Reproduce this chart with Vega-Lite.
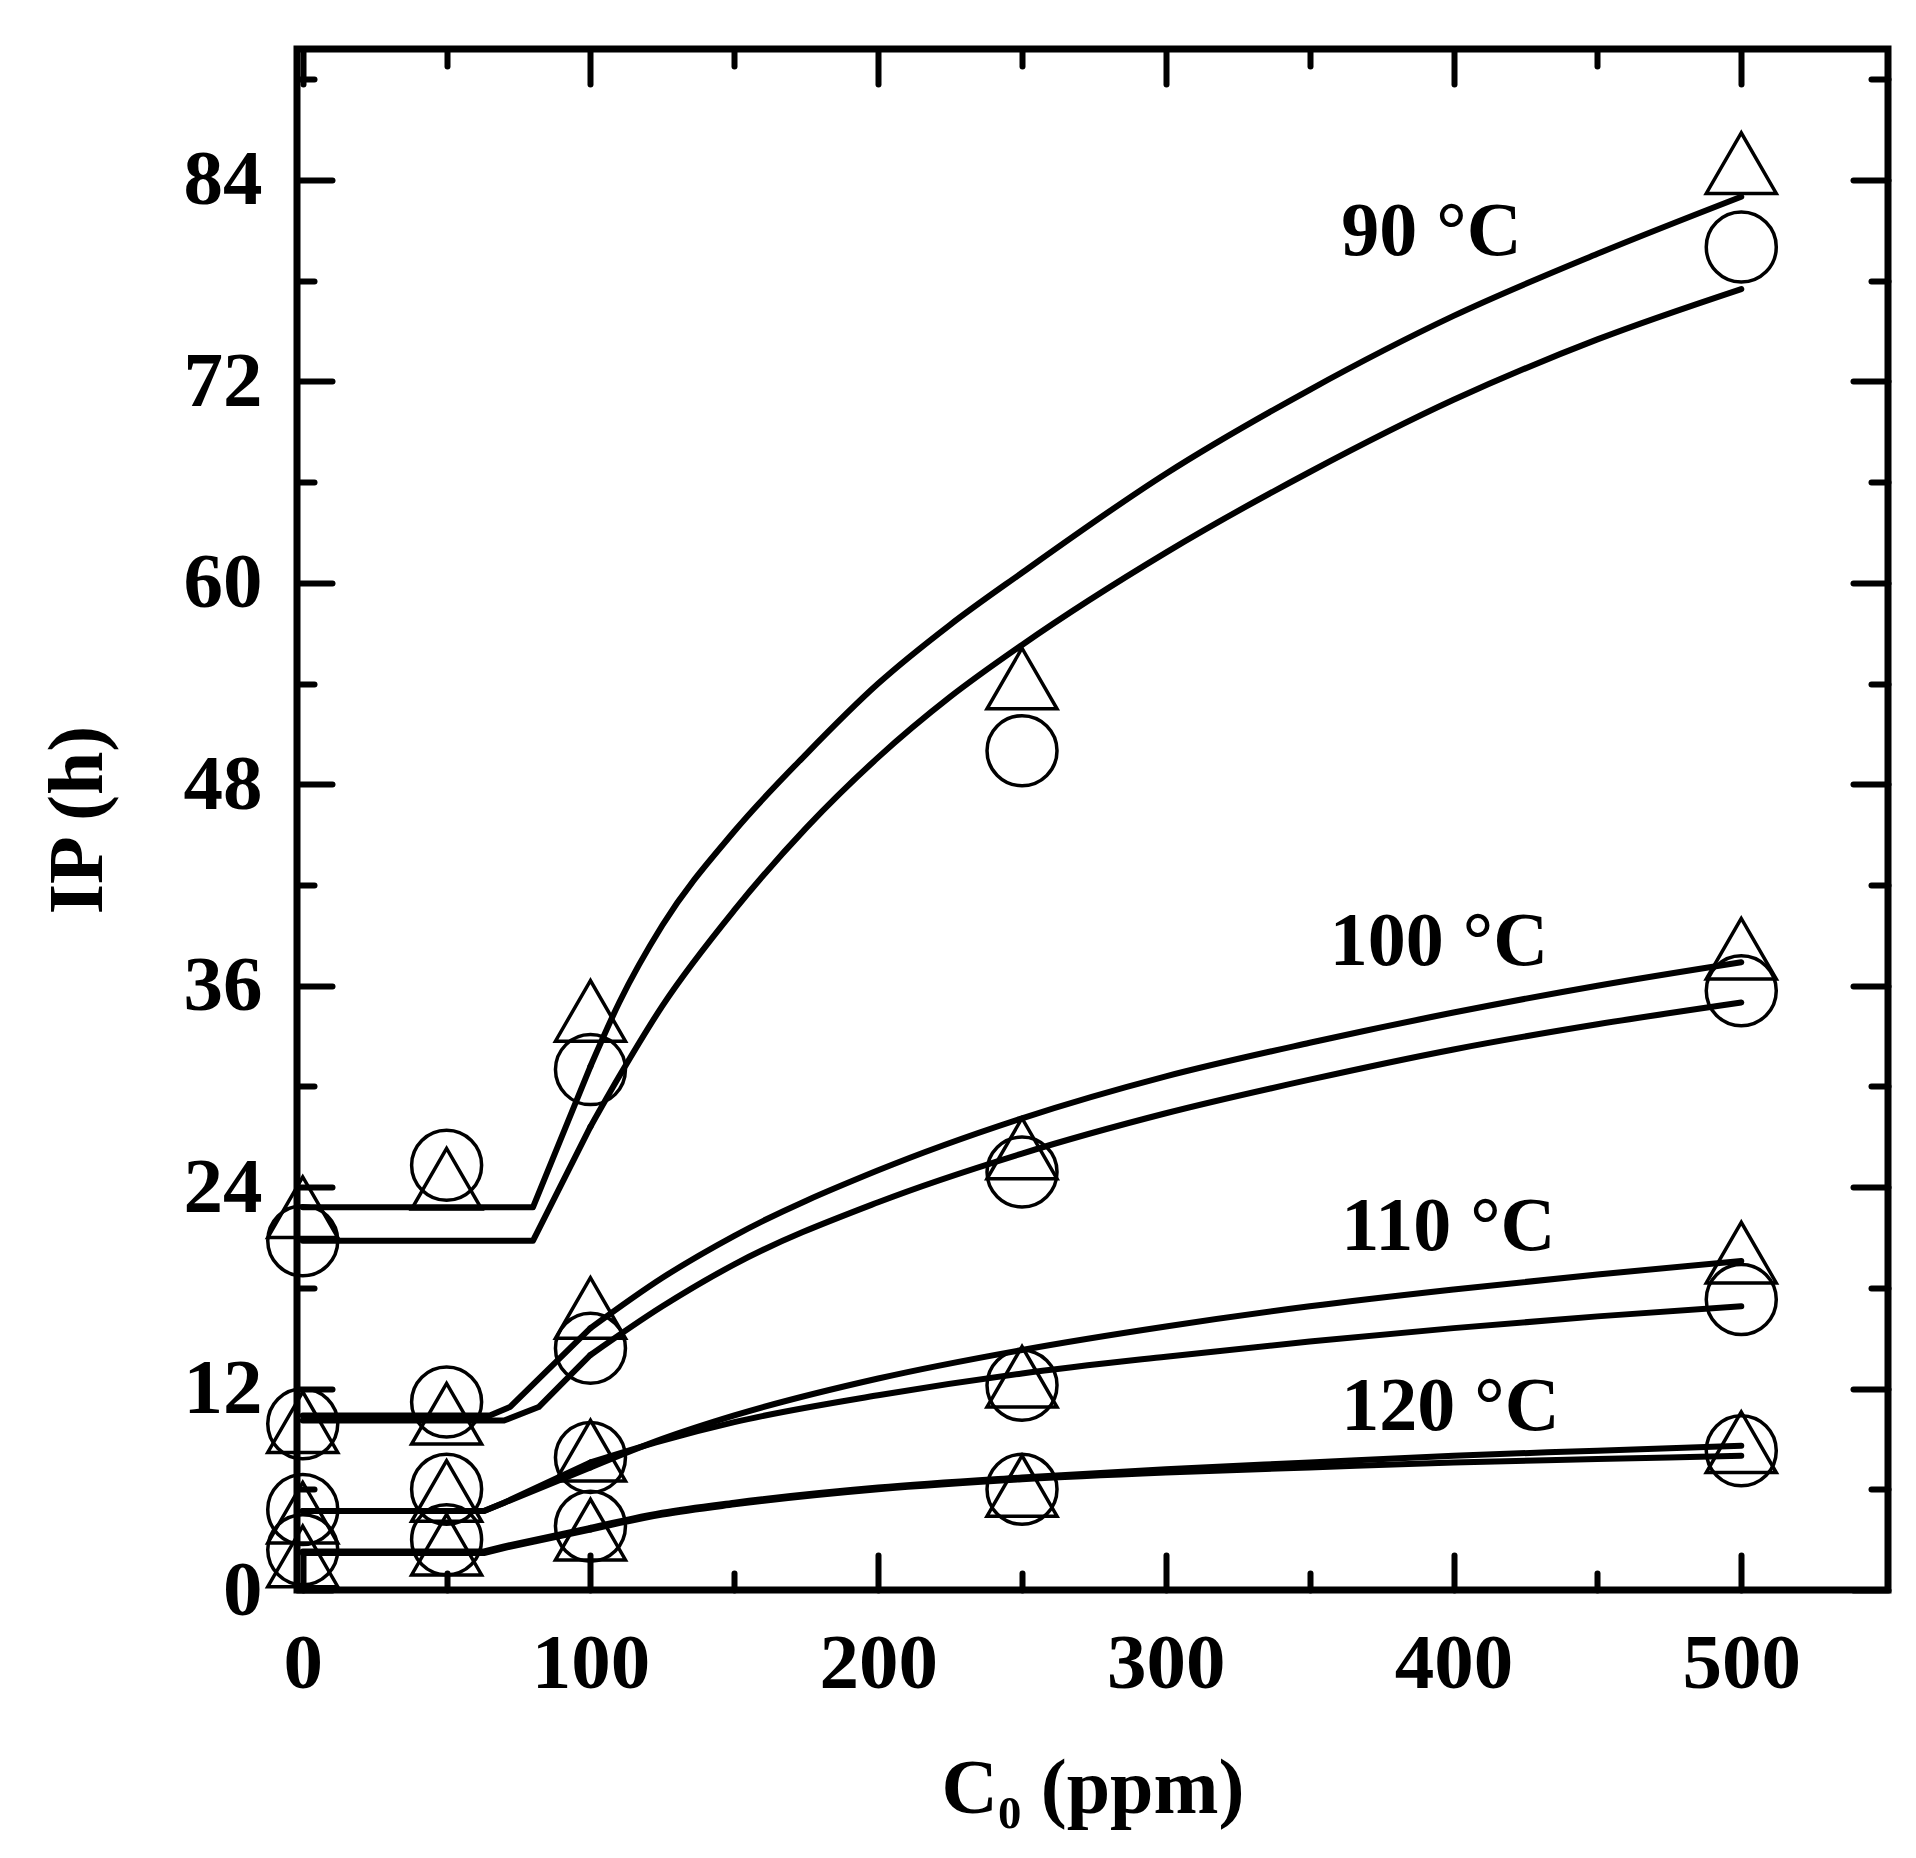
{
  "$schema": "https://vega.github.io/schema/vega-lite/v6.json",
  "width": 1591,
  "height": 1541,
  "autosize": {"type": "none"},
  "padding": {"left": 297, "top": 49, "right": 28, "bottom": 268},
  "background": "white",
  "config": {
    "view": {"stroke": "black", "strokeWidth": 7},
    "axis": {
      "domain": false,
      "grid": false,
      "tickColor": "black",
      "tickWidth": 6,
      "tickCap": "round",
      "labelFont": "Liberation Serif",
      "labelFontWeight": "bold",
      "labelFontSize": 79,
      "labelColor": "black",
      "labelFlush": false,
      "labelOverlap": false,
      "labelBound": false,
      "titleFont": "Liberation Serif",
      "titleFontWeight": "bold",
      "titleFontSize": 78,
      "titleColor": "black"
    }
  },
  "datasets": {
    "fits": [
      {"series": "90 T", "x": 0, "y": 22.8}, {"series": "90 T", "x": 80, "y": 22.8}, {"series": "90 T", "x": 100, "y": 31.2}, {"series": "90 T", "x": 110, "y": 35.0}, {"series": "90 T", "x": 125, "y": 39.6}, {"series": "90 T", "x": 150, "y": 45.2}, {"series": "90 T", "x": 175, "y": 49.8}, {"series": "90 T", "x": 200, "y": 54.0}, {"series": "90 T", "x": 225, "y": 57.5}, {"series": "90 T", "x": 250, "y": 60.6}, {"series": "90 T", "x": 300, "y": 66.5}, {"series": "90 T", "x": 350, "y": 71.5}, {"series": "90 T", "x": 400, "y": 75.9}, {"series": "90 T", "x": 450, "y": 79.6}, {"series": "90 T", "x": 500, "y": 83.0},
      {"series": "90 C", "x": 0, "y": 20.8}, {"series": "90 C", "x": 80, "y": 20.8}, {"series": "90 C", "x": 100, "y": 27.6}, {"series": "90 C", "x": 110, "y": 30.6}, {"series": "90 C", "x": 125, "y": 34.8}, {"series": "90 C", "x": 150, "y": 40.5}, {"series": "90 C", "x": 175, "y": 45.4}, {"series": "90 C", "x": 200, "y": 49.6}, {"series": "90 C", "x": 225, "y": 53.2}, {"series": "90 C", "x": 250, "y": 56.3}, {"series": "90 C", "x": 300, "y": 61.8}, {"series": "90 C", "x": 350, "y": 66.6}, {"series": "90 C", "x": 400, "y": 70.9}, {"series": "90 C", "x": 450, "y": 74.5}, {"series": "90 C", "x": 500, "y": 77.5},
      {"series": "100 T", "x": 0, "y": 10.4}, {"series": "100 T", "x": 65, "y": 10.4}, {"series": "100 T", "x": 72, "y": 10.9}, {"series": "100 T", "x": 100, "y": 15.6}, {"series": "100 T", "x": 125, "y": 18.6}, {"series": "100 T", "x": 150, "y": 21.1}, {"series": "100 T", "x": 200, "y": 25.0}, {"series": "100 T", "x": 250, "y": 28.1}, {"series": "100 T", "x": 300, "y": 30.6}, {"series": "100 T", "x": 350, "y": 32.6}, {"series": "100 T", "x": 400, "y": 34.4}, {"series": "100 T", "x": 450, "y": 36.0}, {"series": "100 T", "x": 500, "y": 37.4},
      {"series": "100 C", "x": 0, "y": 10.1}, {"series": "100 C", "x": 70, "y": 10.1}, {"series": "100 C", "x": 82, "y": 10.9}, {"series": "100 C", "x": 100, "y": 14.0}, {"series": "100 C", "x": 125, "y": 16.9}, {"series": "100 C", "x": 150, "y": 19.4}, {"series": "100 C", "x": 200, "y": 23.1}, {"series": "100 C", "x": 250, "y": 26.0}, {"series": "100 C", "x": 300, "y": 28.4}, {"series": "100 C", "x": 350, "y": 30.4}, {"series": "100 C", "x": 400, "y": 32.2}, {"series": "100 C", "x": 450, "y": 33.7}, {"series": "100 C", "x": 500, "y": 35.0},
      {"series": "110 T", "x": 0, "y": 4.7}, {"series": "110 T", "x": 63, "y": 4.7}, {"series": "110 T", "x": 70, "y": 5.2}, {"series": "110 T", "x": 100, "y": 7.3}, {"series": "110 T", "x": 125, "y": 9.0}, {"series": "110 T", "x": 150, "y": 10.4}, {"series": "110 T", "x": 200, "y": 12.6}, {"series": "110 T", "x": 250, "y": 14.3}, {"series": "110 T", "x": 300, "y": 15.7}, {"series": "110 T", "x": 350, "y": 16.9}, {"series": "110 T", "x": 400, "y": 17.9}, {"series": "110 T", "x": 450, "y": 18.8}, {"series": "110 T", "x": 500, "y": 19.6},
      {"series": "110 C", "x": 0, "y": 4.7}, {"series": "110 C", "x": 63, "y": 4.7}, {"series": "110 C", "x": 70, "y": 5.2}, {"series": "110 C", "x": 100, "y": 7.6}, {"series": "110 C", "x": 125, "y": 8.9}, {"series": "110 C", "x": 150, "y": 10.0}, {"series": "110 C", "x": 200, "y": 11.6}, {"series": "110 C", "x": 250, "y": 12.9}, {"series": "110 C", "x": 300, "y": 13.9}, {"series": "110 C", "x": 350, "y": 14.8}, {"series": "110 C", "x": 400, "y": 15.6}, {"series": "110 C", "x": 450, "y": 16.3}, {"series": "110 C", "x": 500, "y": 16.9},
      {"series": "120 T", "x": 0, "y": 2.3}, {"series": "120 T", "x": 63, "y": 2.3}, {"series": "120 T", "x": 70, "y": 2.6}, {"series": "120 T", "x": 100, "y": 3.7}, {"series": "120 T", "x": 125, "y": 4.6}, {"series": "120 T", "x": 150, "y": 5.2}, {"series": "120 T", "x": 200, "y": 6.1}, {"series": "120 T", "x": 250, "y": 6.7}, {"series": "120 T", "x": 300, "y": 7.2}, {"series": "120 T", "x": 350, "y": 7.6}, {"series": "120 T", "x": 400, "y": 8.0}, {"series": "120 T", "x": 450, "y": 8.3}, {"series": "120 T", "x": 500, "y": 8.6},
      {"series": "120 C", "x": 0, "y": 2.2}, {"series": "120 C", "x": 63, "y": 2.2}, {"series": "120 C", "x": 70, "y": 2.5}, {"series": "120 C", "x": 100, "y": 3.6}, {"series": "120 C", "x": 125, "y": 4.5}, {"series": "120 C", "x": 150, "y": 5.1}, {"series": "120 C", "x": 200, "y": 6.0}, {"series": "120 C", "x": 250, "y": 6.6}, {"series": "120 C", "x": 300, "y": 7.0}, {"series": "120 C", "x": 350, "y": 7.3}, {"series": "120 C", "x": 400, "y": 7.6}, {"series": "120 C", "x": 450, "y": 7.8}, {"series": "120 C", "x": 500, "y": 8.0}
    ],
    "obs": [
      {"T": "90", "shape": "triangle", "x": 0, "y": 22.8}, {"T": "90", "shape": "triangle", "x": 50, "y": 24.5}, {"T": "90", "shape": "triangle", "x": 100, "y": 34.5}, {"T": "90", "shape": "triangle", "x": 250, "y": 54.3}, {"T": "90", "shape": "triangle", "x": 500, "y": 85.0},
      {"T": "90", "shape": "circle", "x": 0, "y": 20.8}, {"T": "90", "shape": "circle", "x": 50, "y": 25.3}, {"T": "90", "shape": "circle", "x": 100, "y": 31.0}, {"T": "90", "shape": "circle", "x": 250, "y": 50.0}, {"T": "90", "shape": "circle", "x": 500, "y": 80.0},
      {"T": "100", "shape": "triangle", "x": 0, "y": 10.0}, {"T": "100", "shape": "triangle", "x": 50, "y": 10.5}, {"T": "100", "shape": "triangle", "x": 100, "y": 16.8}, {"T": "100", "shape": "triangle", "x": 250, "y": 26.3}, {"T": "100", "shape": "triangle", "x": 500, "y": 38.2},
      {"T": "100", "shape": "circle", "x": 0, "y": 9.9}, {"T": "100", "shape": "circle", "x": 50, "y": 11.2}, {"T": "100", "shape": "circle", "x": 100, "y": 14.4}, {"T": "100", "shape": "circle", "x": 250, "y": 24.9}, {"T": "100", "shape": "circle", "x": 500, "y": 35.7},
      {"T": "110", "shape": "triangle", "x": 0, "y": 4.6}, {"T": "110", "shape": "triangle", "x": 50, "y": 5.9}, {"T": "110", "shape": "triangle", "x": 100, "y": 8.3}, {"T": "110", "shape": "triangle", "x": 250, "y": 12.7}, {"T": "110", "shape": "triangle", "x": 500, "y": 20.1},
      {"T": "110", "shape": "circle", "x": 0, "y": 4.8}, {"T": "110", "shape": "circle", "x": 50, "y": 6.0}, {"T": "110", "shape": "circle", "x": 100, "y": 7.9}, {"T": "110", "shape": "circle", "x": 250, "y": 12.2}, {"T": "110", "shape": "circle", "x": 500, "y": 17.3},
      {"T": "120", "shape": "triangle", "x": 0, "y": 2.0}, {"T": "120", "shape": "triangle", "x": 50, "y": 2.7}, {"T": "120", "shape": "triangle", "x": 100, "y": 3.6}, {"T": "120", "shape": "triangle", "x": 250, "y": 6.2}, {"T": "120", "shape": "triangle", "x": 500, "y": 8.8},
      {"T": "120", "shape": "circle", "x": 0, "y": 2.4}, {"T": "120", "shape": "circle", "x": 50, "y": 3.0}, {"T": "120", "shape": "circle", "x": 100, "y": 3.8}, {"T": "120", "shape": "circle", "x": 250, "y": 6.0}, {"T": "120", "shape": "circle", "x": 500, "y": 8.3}
    ],
    "labels": [
      {"text": "90 °C", "x": 361, "y": 79.5},
      {"text": "100 °C", "x": 357, "y": 37.25},
      {"text": "110 °C", "x": 361, "y": 20.25},
      {"text": "120 °C", "x": 361, "y": 9.55}
    ]
  },
  "layer": [
    {
      "data": {"name": "fits"},
      "transform": [{"filter": "datum.x <= 100"}],
      "mark": {"type": "line", "color": "black", "strokeWidth": 6, "strokeCap": "round", "strokeJoin": "round"},
      "encoding": {
        "x": {
          "field": "x", "type": "quantitative",
          "scale": {"domain": [-2, 551], "nice": false, "zero": false},
          "axis": {
            "orient": "top", "labels": false, "title": null,
            "values": [0, 50, 100, 150, 200, 250, 300, 350, 400, 450, 500],
            "tickSize": {"condition": {"test": "datum.value % 100 !== 0", "value": -17}, "value": -35}
          }
        },
        "y": {
          "field": "y", "type": "quantitative",
          "scale": {"domain": [0, 91.8], "nice": false, "zero": false},
          "axis": {
            "orient": "right", "labels": false, "title": null,
            "values": [0, 6, 12, 18, 24, 30, 36, 42, 48, 54, 60, 66, 72, 78, 84, 90],
            "tickSize": {"condition": {"test": "datum.value % 12 !== 0", "value": -17}, "value": -35}
          }
        },
        "detail": {"field": "series"}
      }
    },
    {
      "data": {"name": "fits"},
      "transform": [{"filter": "datum.x >= 100"}],
      "mark": {"type": "line", "color": "black", "strokeWidth": 6, "strokeCap": "round", "strokeJoin": "round", "interpolate": "monotone"},
      "encoding": {
        "x": {"field": "x", "type": "quantitative", "axis": null},
        "y": {"field": "y", "type": "quantitative", "axis": null},
        "detail": {"field": "series"}
      }
    },
    {
      "data": {"name": "obs"},
      "mark": {"type": "point", "filled": false, "color": "black", "strokeWidth": 3.5, "size": 4900, "opacity": 1},
      "encoding": {
        "x": {
          "field": "x", "type": "quantitative",
          "scale": {"domain": [-2, 551], "nice": false, "zero": false},
          "axis": {
            "orient": "bottom", "title": "C₀ (ppm)",
            "values": [0, 50, 100, 150, 200, 250, 300, 350, 400, 450, 500],
            "labelExpr": "datum.value % 100 === 0 ? datum.label : ''",
            "labelPadding": 70,
            "titlePadding": 29,
            "tickSize": {"condition": {"test": "datum.value % 100 !== 0", "value": -17}, "value": -35}
          }
        },
        "y": {
          "field": "y", "type": "quantitative",
          "scale": {"domain": [0, 91.8], "nice": false, "zero": false},
          "axis": {
            "orient": "left", "title": "IP (h)",
            "values": [0, 6, 12, 18, 24, 30, 36, 42, 48, 54, 60, 66, 72, 78, 84, 90],
            "labelExpr": "datum.value % 12 === 0 ? datum.label : ''",
            "labelPadding": 70,
            "titlePadding": 66,
            "tickSize": {"condition": {"test": "datum.value % 12 !== 0", "value": -17}, "value": -35}
          }
        },
        "shape": {
          "field": "shape", "type": "nominal",
          "scale": {"domain": ["circle", "triangle"], "range": ["circle", "triangle-up"]},
          "legend": null
        }
      }
    },
    {
      "data": {"name": "labels"},
      "mark": {"type": "text", "font": "Liberation Serif", "fontWeight": "bold", "fontSize": 76, "align": "left", "baseline": "alphabetic", "color": "black"},
      "encoding": {
        "x": {"field": "x", "type": "quantitative", "axis": null},
        "y": {"field": "y", "type": "quantitative", "axis": null},
        "text": {"field": "text"}
      }
    }
  ],
  "resolve": {"axis": {"x": "independent", "y": "independent"}}
}
